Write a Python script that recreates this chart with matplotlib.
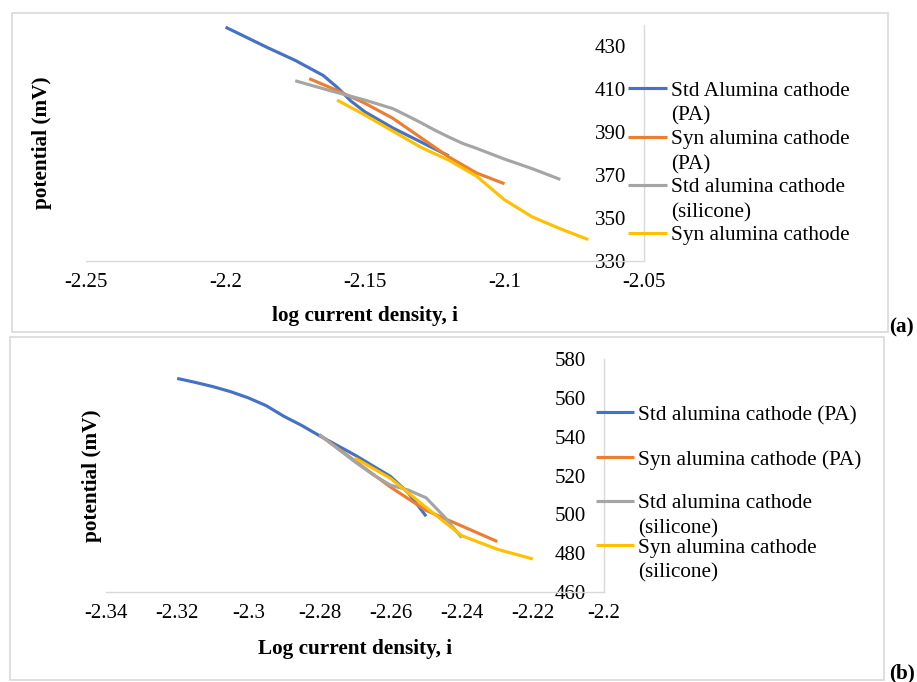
import numpy as np
import matplotlib
matplotlib.use("Agg")
import matplotlib.pyplot as plt
from matplotlib.lines import Line2D
from matplotlib.patches import Rectangle
from matplotlib.ticker import FuncFormatter

plt.rcParams['font.family'] = 'Liberation Serif'
plt.rcParams['axes.unicode_minus'] = False

W, H = 917, 682

# ---- panel (a) data: log current density vs potential (mV)
a_std_pa_x = [-2.2, -2.185, -2.175, -2.17, -2.165, -2.16, -2.155, -2.15, -2.14, -2.13, -2.12]
a_std_pa_y = [439, 429.5, 423.5, 420, 416.5, 411, 404.5, 399.5, 392, 385.5, 379]
a_syn_pa_x = [-2.17, -2.16, -2.15, -2.14, -2.13, -2.12, -2.11, -2.10]
a_syn_pa_y = [415, 409.5, 403.5, 396.5, 387.5, 378.5, 371, 366]
a_std_si_x = [-2.175, -2.16, -2.15, -2.14, -2.135, -2.13, -2.125, -2.12, -2.115, -2.11,
              -2.10, -2.09, -2.08]
a_std_si_y = [414, 408.5, 405, 401, 397.8, 394.5, 391, 387.8, 384.8, 382.5, 377.5, 373, 368]
a_syn_si_x = [-2.16, -2.15, -2.14, -2.13, -2.12, -2.11, -2.105, -2.10, -2.09, -2.08, -2.07]
a_syn_si_y = [405, 398, 390.5, 383, 377, 369.5, 364, 358.5, 350.5, 345, 340]
a_labels = ["Std Alumina cathode\n(PA)", "Syn alumina cathode\n(PA)",
            "Std alumina cathode\n(silicone)", "Syn alumina cathode"]
a_xticks = [-2.25, -2.2, -2.15, -2.1, -2.05]
a_yticks = [330, 350, 370, 390, 410, 430]

# ---- panel (b) data
b_std_pa_x = [-2.32, -2.315, -2.31, -2.305, -2.30, -2.295, -2.29, -2.285, -2.28, -2.27,
              -2.26, -2.255, -2.25]
b_std_pa_y = [570, 568, 565.8, 563.2, 560, 556, 550.5, 545.8, 540.5, 530.5, 519.5, 511, 499]
b_syn_pa_x = [-2.28, -2.27, -2.26, -2.25, -2.24, -2.23]
b_syn_pa_y = [541, 527.5, 514, 502, 494, 486]
b_std_si_x = [-2.28, -2.27, -2.265, -2.26, -2.255, -2.25, -2.245, -2.24]
b_std_si_y = [541, 527, 520.5, 515, 512.5, 508.5, 499, 488]
b_syn_si_x = [-2.27, -2.26, -2.25, -2.24, -2.23, -2.22]
b_syn_si_y = [529, 518.5, 503.5, 489, 482, 477]
b_labels = ["Std alumina cathode (PA)", "Syn alumina cathode (PA)",
            "Std alumina cathode\n(silicone)", "Syn alumina cathode\n(silicone)"]
b_xticks = [-2.34, -2.32, -2.3, -2.28, -2.26, -2.24, -2.22, -2.2]
b_yticks = [460, 480, 500, 520, 540, 560, 580]

colors = ['#4472C4', '#ED7D31', '#A5A5A5', '#FFC000']


def fx(px):
    return px / W


def fy(py):
    return 1 - py / H


fig = plt.figure(figsize=(W / 100, H / 100), dpi=100)

# light frames around each panel
for x0, y0, x1, y1 in [(12, 13, 888, 332), (10, 337, 884, 680)]:
    fig.add_artist(Rectangle((fx(x0), fy(y1)), fx(x1) - fx(x0), fy(y0) - fy(y1),
                             transform=fig.transFigure, fill=False,
                             ec='#d9d9d9', lw=1.2))


def make_axes(box, series, xlim, ylim, xticks, yticks, xlabel, xlab_y, ylab_x):
    left, top, right, bottom = box
    ax = fig.add_axes([fx(left), fy(bottom), fx(right) - fx(left), fy(top) - fy(bottom)])
    for (x, y), c in zip(series, colors):
        ax.plot(x, y, color=c, lw=2.25, solid_capstyle='butt', solid_joinstyle='round')
    ax.set_xlim(*xlim)
    ax.set_ylim(*ylim)
    ax.set_xticks(xticks)
    ax.set_yticks(yticks)
    ax.xaxis.set_major_formatter(FuncFormatter(lambda v, p: f"{round(v, 2):g}"))
    ax.spines['top'].set_visible(False)
    ax.spines['right'].set_visible(False)
    ax.spines['left'].set_position(('axes', 1.0))
    for s in ('left', 'bottom'):
        ax.spines[s].set_color('#d9d9d9')
        ax.spines[s].set_linewidth(1.0)
    ax.tick_params(axis='both', length=0, labelsize=15)
    ax.tick_params(axis='x', pad=8.5)
    ax.tick_params(axis='y', pad=13)
    ax.set_xlabel(xlabel, fontsize=15.3, fontweight='bold', va='center')
    ax.set_ylabel('potential (mV)', fontsize=15.3, fontweight='bold', va='center')
    ax.xaxis.set_label_coords(0.5, xlab_y)
    ax.yaxis.set_label_coords(ylab_x, 0.5)
    ax.patch.set_alpha(0)
    return ax


def legend(labels, x0, x1, xt, ys):
    for lab, c, y in zip(labels, colors, ys):
        fig.add_artist(Line2D([fx(x0), fx(x1)], [fy(y), fy(y)], transform=fig.transFigure,
                              color=c, lw=2.25, solid_capstyle='butt'))
        fig.text(fx(xt), fy(y - 6.5), lab, fontsize=15.3, va='top', ha='left',
                 linespacing=1.4)


make_axes((86, 25, 644, 261),
          [(a_std_pa_x, a_std_pa_y), (a_syn_pa_x, a_syn_pa_y),
           (a_std_si_x, a_std_si_y), (a_syn_si_x, a_syn_si_y)],
          (-2.25, -2.05), (330, 440), a_xticks, a_yticks,
          'log current density, i', (261 - 316) / 236, (42 - 86) / 558)
legend(a_labels, 628, 667, 671, [88.3, 136.7, 185, 233])

make_axes((106, 359, 604, 592),
          [(b_std_pa_x, b_std_pa_y), (b_syn_pa_x, b_syn_pa_y),
           (b_std_si_x, b_std_si_y), (b_syn_si_x, b_syn_si_y)],
          (-2.34, -2.2), (460, 580), b_xticks, b_yticks,
          'Log current density, i', (592 - 649) / 233, (92.5 - 106) / 498)
legend(b_labels, 596, 634, 638, [412.3, 456.7, 501, 545])

fig.text(fx(901.5), fy(327), '(a)', fontsize=15.3, fontweight='bold', ha='center', va='center')
fig.text(fx(902), fy(673), '(b)', fontsize=15.3, fontweight='bold', ha='center', va='center')

fig.savefig('out.png', dpi=100)
